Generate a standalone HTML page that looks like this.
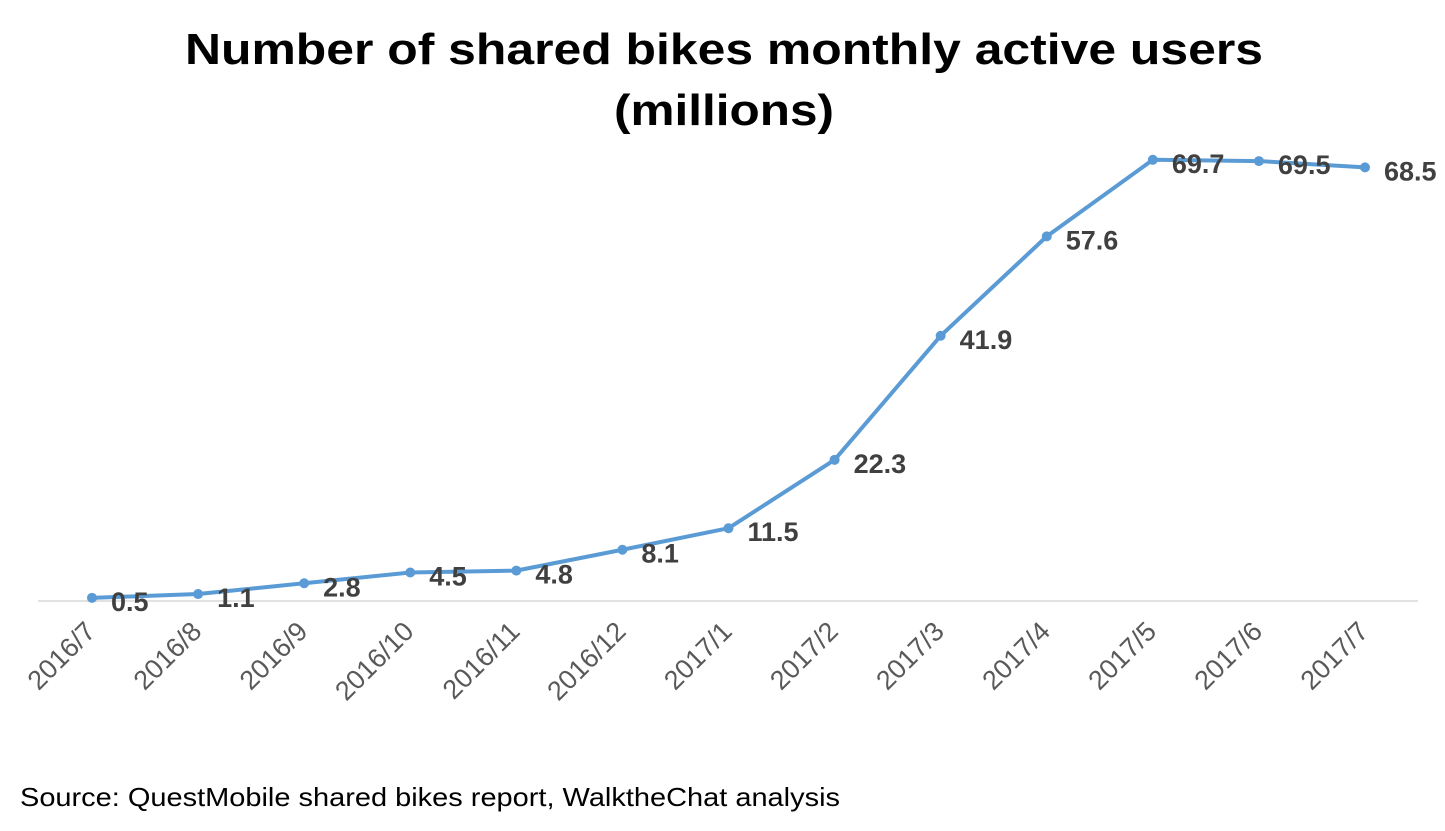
<!DOCTYPE html>
<html><head><meta charset="utf-8"><style>
body{margin:0;background:#fff;}
svg{display:block;font-family:"Liberation Sans",Arial,sans-serif;}
</style></head><body>
<svg id="c" width="1445" height="831">
<text x="185" y="64" textLength="1078" lengthAdjust="spacingAndGlyphs" font-size="44" font-weight="bold" fill="#000">Number of shared bikes monthly active users</text>
<text x="614" y="125" textLength="220" lengthAdjust="spacingAndGlyphs" font-size="44" font-weight="bold" fill="#000">(millions)</text>
<line x1="38" y1="601" x2="1418" y2="601" stroke="#d9d9d9" stroke-width="1.5"/>
<g id="g"></g>
<text x="20" y="806" textLength="820" lengthAdjust="spacingAndGlyphs" font-size="26" fill="#000">Source: QuestMobile shared bikes report, WalktheChat analysis</text>
</svg>
<script>
const categories=["2016/7","2016/8","2016/9","2016/10","2016/11","2016/12","2017/1","2017/2","2017/3","2017/4","2017/5","2017/6","2017/7"];
const values=[0.5,1.1,2.8,4.5,4.8,8.1,11.5,22.3,41.9,57.6,69.7,69.5,68.5];
const labels=["0.5","1.1","2.8","4.5","4.8","8.1","11.5","22.3","41.9","57.6","69.7","69.5","68.5"];
const NS="http://www.w3.org/2000/svg";
const g=document.getElementById('g');
function xs(i){return 92+i*(1365-92)/(categories.length-1);}
function ys(v){return 601-v*6.33;}
function mk(t,a){const e=document.createElementNS(NS,t);for(const k in a)e.setAttribute(k,a[k]);g.appendChild(e);return e;}
const line=mk('polyline',{points:values.map((v,i)=>xs(i)+','+ys(v)).join(' '),fill:'none',stroke:'#5b9bd5','stroke-width':4,'stroke-linejoin':'round'});


values.forEach((v,i)=>{
 const c=mk('circle',{cx:xs(i),cy:ys(v),r:5,fill:'#5b9bd5'});
 
 
 const t=mk('text',{x:xs(i)+19,y:ys(v)+13,'font-size':27,'font-weight':'bold',fill:'#404040'});
 t.textContent=labels[i];
 
 
 const x=xs(i)+5,y=633;
 const l=mk('text',{x:x,y:y,'font-size':27,fill:'#595959','text-anchor':'end',transform:`rotate(-45 ${x} ${y})`});
 l.textContent=categories[i];
 
 
});
</script>
</body></html>
